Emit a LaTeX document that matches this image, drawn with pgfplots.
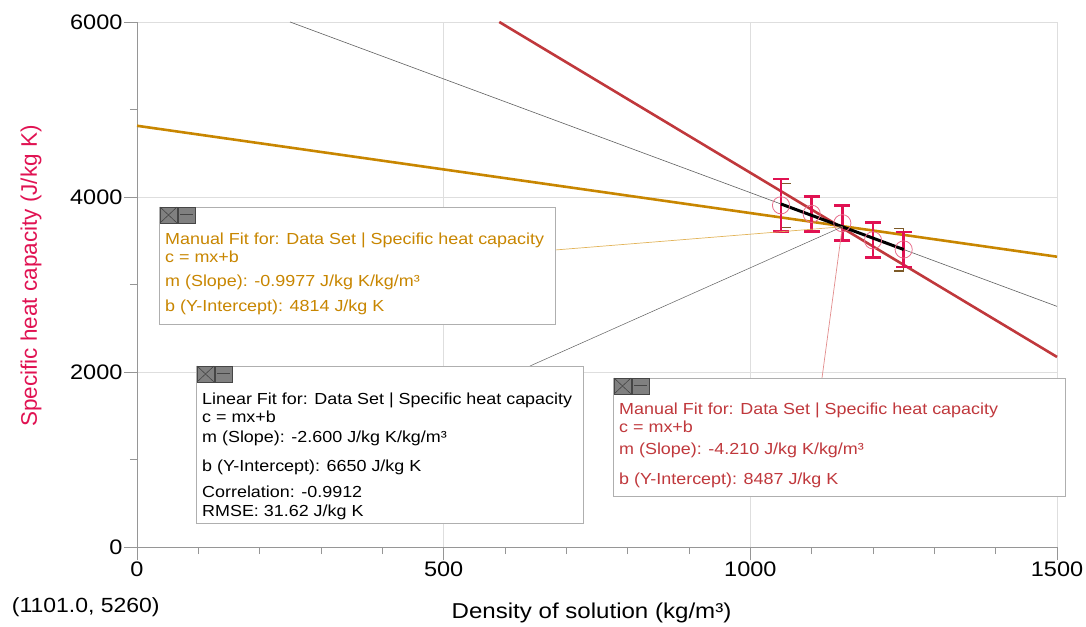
\documentclass[border=0pt]{standalone}
\usepackage{fontspec}
\setmainfont[FakeStretch=1.12]{Liberation Sans}
\newfontfamily\plainsans{Liberation Sans}
\usepackage{pgfplots}
\pgfplotsset{compat=1.18}
\definecolor{crimson}{RGB}{224,18,82}
\definecolor{pinkc}{RGB}{232,110,140}
\definecolor{goldc}{RGB}{200,134,0}
\definecolor{goldlight}{RGB}{226,180,90}
\definecolor{redc}{RGB}{192,56,60}
\definecolor{redlight}{RGB}{226,140,140}
\definecolor{brownc}{RGB}{125,90,40}
\definecolor{thingray}{RGB}{95,95,95}
\definecolor{axisgray}{RGB}{150,150,150}
\definecolor{gridgray}{RGB}{222,222,222}
\definecolor{boxgray}{RGB}{175,175,175}
\definecolor{icongray}{RGB}{128,128,128}
\definecolor{icondark}{RGB}{70,70,70}

\pgfplotstableread{
x     y     e
1050  3905  300
1100  3808  200
1150  3700  200
1200  3505  200
1250  3400  200
}\datatable

\newcommand\icons[2]{%
  \draw[fill=icongray, draw=icondark, line width=0.6pt] (#1,#2) rectangle ++(17,-16);
  \draw[icondark, line width=0.6pt] (#1,#2) -- ++(17,-16) (#1+17,#2) -- ++(-17,-16);
  \draw[fill=icongray, draw=icondark, line width=0.6pt] (#1+18,#2) rectangle ++(17,-16);
  \draw[icondark, line width=1pt] (#1+20,#2-8) -- ++(13,0);
}

\begin{document}
\begin{tikzpicture}[x=1pt,y=1pt]
\useasboundingbox (-137,-79) rectangle (949,547);
\begin{axis}[
  at={(0,0)}, anchor=south west,
  scale only axis, width=920pt, height=525pt,
  xmin=0, xmax=1500, ymin=0, ymax=6000,
  axis x line=bottom, axis y line=left,
  axis line style={-, draw=axisgray, line width=0.8pt},
  xtick={0,500,1000,1500}, ytick={0,2000,4000,6000},
  minor xtick={100,200,300,400,600,700,800,900,1100,1200,1300,1400},
  minor ytick={1000,3000,5000},
  grid=major, major grid style={draw=gridgray, line width=0.8pt},
  tick align=outside, major tick length=13pt, minor tick length=7pt,
  every tick/.style={draw=axisgray, line width=0.8pt},
  ticklabel style={font=\fontsize{21}{24}\selectfont, text=black},
  /pgf/number format/assume math mode=true,
  /pgf/number format/1000 sep={},
  xticklabel style={yshift=2pt},
  yticklabel style={xshift=2pt},
  clip=false,
]
% thin extended linear fit
\addplot[thingray, line width=0.6pt] coordinates {(249.6,6000) (1500,2750)};
% manual fit (gold)
\addplot[goldc, line width=2.6pt] coordinates {(0,4814) (1500,3317.5)};
% manual fit (red)
\addplot[redc, line width=2.6pt] coordinates {(590.7,6000) (1500,2172)};
% brown brackets
\addplot[brownc, line width=1.2pt] coordinates {(1066,4150) (1050,4150) (1050,3650) (1066,3650)};
\addplot[brownc, line width=1.2pt] coordinates {(1234,3640) (1250,3640) (1250,3155) (1234,3155)};
% error bars
\addplot[draw=none, mark=none,
  error bars/.cd, y dir=both, y explicit,
  error bar style={draw=crimson, line width=2.7pt},
  error mark options={rotate=90, mark size=8pt, draw=crimson, line width=2.7pt}]
  table[x=x, y=y, y error=e] {\datatable};
% circles
\addplot[only marks, mark=o, mark size=8.6pt, mark options={draw=pinkc, line width=0.8pt}]
  table[x=x, y=y] {\datatable};
% linear fit over data
\addplot[black, line width=3pt] coordinates {(1050,3920) (1250,3400)};
\coordinate (P) at (axis cs:1150,3660);
\end{axis}

% leader lines
\draw[goldlight, line width=0.7pt] (418,297) -- (P);
\draw[thingray, line width=0.5pt] (393,181) -- (P);
\draw[redlight, line width=0.7pt] (685,169) -- (P);

% gold box
\draw[boxgray, fill=white, line width=0.7pt] (22,340) rectangle (418,223);
\icons{23}{340}
\begin{scope}[every node/.style={anchor=base west, inner sep=0pt, text=goldc, font=\fontsize{16}{19}\selectfont}]
\node at (28,302) {Manual Fit for: Data Set | Specific heat capacity};
\node at (28,284) {c = mx+b};
\node at (28,260) {m (Slope): -0.9977 J/kg K/kg/m³};
\node at (28,235) {b (Y-Intercept): 4814 J/kg K};
\end{scope}

% black box
\draw[boxgray, fill=white, line width=0.7pt] (59,181) rectangle (446,24);
\icons{60}{181}
\begin{scope}[every node/.style={anchor=base west, inner sep=0pt, text=black, font=\fontsize{16}{19}\selectfont}]
\node at (65,142) {Linear Fit for: Data Set | Specific heat capacity};
\node at (65,124) {c = mx+b};
\node at (65,104) {m (Slope): -2.600 J/kg K/kg/m³};
\node at (65,75) {b (Y-Intercept): 6650 J/kg K};
\node at (65,49) {Correlation: -0.9912};
\node at (65,30) {RMSE: 31.62 J/kg K};
\end{scope}

% red box
\draw[boxgray, fill=white, line width=0.7pt] (476,169) rectangle (928,51);
\icons{477}{169}
\begin{scope}[every node/.style={anchor=base west, inner sep=0pt, text=redc, font=\fontsize{16}{19}\selectfont}]
\node at (482,132) {Manual Fit for: Data Set | Specific heat capacity};
\node at (482,114) {c = mx+b};
\node at (482,92) {m (Slope): -4.210 J/kg K/kg/m³};
\node at (482,62) {b (Y-Intercept): 8487 J/kg K};
\end{scope}

% axis labels
\node[rotate=90, anchor=center, inner sep=0pt, text=crimson, font=\plainsans\fontsize{22.5}{26}\selectfont] at (-106,271) {Specific heat capacity (J/kg K)};
\node[anchor=base, inner sep=0pt, font=\fontsize{21.5}{25}\selectfont] at (454.5,-71) {Density of solution (kg/m³)};
\node[anchor=base west, inner sep=0pt, font=\fontsize{20.5}{24}\selectfont] at (-125.3,-65.7) {(1101.0, 5260)};
\end{tikzpicture}
\end{document}
